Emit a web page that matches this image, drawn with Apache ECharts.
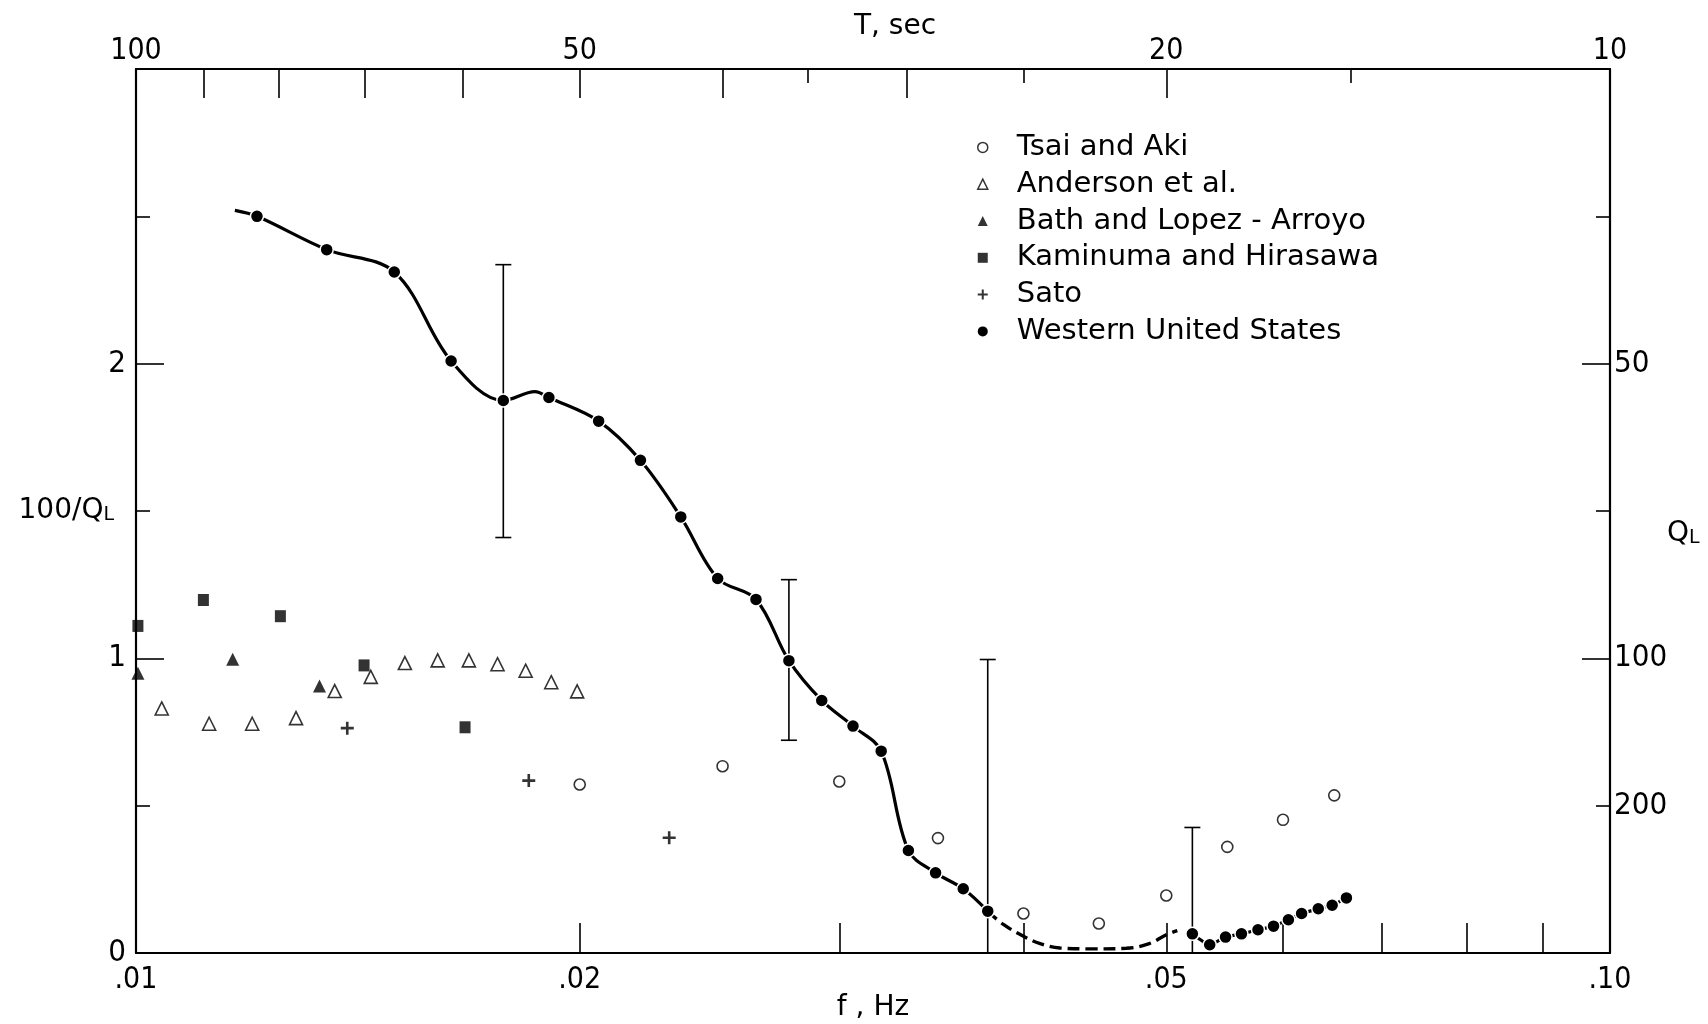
<!DOCTYPE html>
<html><head><meta charset="utf-8">
<script src="https://cdn.jsdelivr.net/npm/echarts@6/dist/echarts.min.js"></script>
<style>html,body{margin:0;padding:0;background:#fff}#c{width:1708px;height:1024px}</style>
</head><body><div id="c"></div>
<script>
// ---------- data (f in Hz, value = 100/Q_L) ----------
const tsaiF = [0.020, 0.025, 0.030, 0.035, 0.040, 0.045, 0.050, 0.055, 0.060, 0.065];
const tsaiQ = [0.572, 0.634, 0.582, 0.390, 0.134, 0.100, 0.195, 0.360, 0.452, 0.535];

const andersonF = [0.01041, 0.01121, 0.01199, 0.01284, 0.01364, 0.01443, 0.01522, 0.01602, 0.01682, 0.01759, 0.01838, 0.01913, 0.01992];
const andersonQ = [0.830, 0.778, 0.778, 0.797, 0.889, 0.937, 0.984, 0.993, 0.993, 0.980, 0.958, 0.919, 0.888];

const bathF = [0.01003, 0.01163, 0.01332];
const bathQ = [0.949, 0.997, 0.906];

const kaminumaF = [0.01003, 0.01111, 0.01253, 0.01428, 0.01672];
const kaminumaQ = [1.110, 1.198, 1.143, 0.976, 0.766];

const satoF = [0.01391, 0.01847, 0.02300];
const satoQ = [0.763, 0.585, 0.391];

// Western United States: measured dots (long-period branch)
const wusF = [0.01208, 0.01347, 0.01497, 0.01636, 0.01775, 0.01906, 0.02060, 0.02199, 0.02342, 0.02481,
              0.02634, 0.02773, 0.02919, 0.03065, 0.03203, 0.03342, 0.03487, 0.03641, 0.03783];
const wusQ = [2.500, 2.387, 2.311, 2.009, 1.875, 1.885, 1.805, 1.672, 1.480, 1.271,
              1.200, 0.992, 0.857, 0.770, 0.685, 0.348, 0.272, 0.218, 0.142];
// points on the drawn curve that carry no dot
const wusCurveStartF = 0.01167, wusCurveStartQ = 2.520;
const wusHumpF = 0.01865, wusHumpQ = 1.905;
// dashed part of the curve (no dots)
const dashF = [0.03783, 0.03879, 0.04000, 0.04106, 0.04235, 0.04461, 0.04696, 0.04869, 0.05000, 0.05087];
const dashQ = [0.142, 0.096, 0.057, 0.032, 0.017, 0.014, 0.016, 0.032, 0.062, 0.076];
// Western United States: short-period branch dots
const wus2F = [0.05208, 0.05351, 0.05485, 0.05623, 0.05770, 0.05912, 0.06051, 0.06177, 0.06340, 0.06479, 0.06625];
const wus2Q = [0.065, 0.028, 0.054, 0.065, 0.079, 0.091, 0.113, 0.134, 0.150, 0.162, 0.187];

// error bars
const errF = [0.01775, 0.02773, 0.03783, 0.05208];
const errLow = [1.410, 0.722, 0.000, 0.000];
const errHigh = [2.336, 1.267, 0.996, 0.426];
const errLowCap = [1, 1, 0, 0];

// axis ticks / labels
const fTicks = [0.02, 0.03, 0.04, 0.05, 0.06, 0.07, 0.08, 0.09];
const fLabels = [0.01, 0.02, 0.05, 0.1];
const tLongTicks = [90, 80, 70, 60, 50, 40, 30, 20];
const tShortTicks = [35, 25, 15];
const tLabels = [100, 50, 20, 10];
const leftLabels = [0, 1, 2];
const qLabels = [200, 100, 50];

// ---------- chart ----------
const FONT = '"DejaVu Sans", "Liberation Sans", sans-serif';
const NUMFONT = '"Liberation Sans Narrow", "DejaVu Sans Condensed", "Liberation Sans", sans-serif';
const BLACK = '#000';
const lg = Math.log10;
const zip = (a, b) => a.map((v, i) => [v, b[i]]);

const plusPath = 'path://M4,0H6V4H10V6H6V10H4V6H0V4H4Z';

const wusSeg1 = [{ value: [wusCurveStartF, wusCurveStartQ], symbol: 'none' }];
wusF.forEach((f, i) => {
  wusSeg1.push([f, wusQ[i]]);
  if (i === 4) wusSeg1.push({ value: [wusHumpF, wusHumpQ], symbol: 'none' });
});

const chart = echarts.init(document.getElementById('c'), null, { renderer: 'canvas' });
const tickStyle = { color: BLACK, width: 1.6 };

chart.setOption({
  backgroundColor: '#fff',
  animation: false,
  grid: { left: 136, right: 98, top: 69, bottom: 71, containLabel: false, outerBoundsMode: 'none' },
  legend: {
    orient: 'vertical', left: 972, top: 124, itemWidth: 10, itemHeight: 10, itemGap: 0,
    selectedMode: false,
    textStyle: { fontFamily: FONT, fontSize: 29, color: BLACK, lineHeight: 36.8, padding: [0, 0, 0, 24] },
    data: [
      { name: 'Tsai and Aki', icon: 'circle', itemStyle: { color: '#fff', borderColor: BLACK, borderWidth: 1.5 } },
      { name: 'Anderson et al.', icon: 'triangle', itemStyle: { color: '#fff', borderColor: BLACK, borderWidth: 1.5 } },
      { name: 'Bath and Lopez - Arroyo', icon: 'triangle', itemStyle: { color: BLACK, borderWidth: 0 } },
      { name: 'Kaminuma and Hirasawa', icon: 'rect', itemStyle: { color: BLACK, borderWidth: 0 } },
      { name: 'Sato', icon: plusPath, itemStyle: { color: BLACK, borderWidth: 0 } },
      { name: 'Western United States', icon: 'circle', itemStyle: { color: BLACK, borderWidth: 0 } }
    ]
  },
  xAxis: [
    { // data axis (log)
      type: 'log', logBase: 10, min: 0.01, max: 0.1, position: 'bottom',
      axisLine: { show: true, onZero: false, lineStyle: { color: BLACK, width: 2.2 } },
      axisTick: { show: false }, axisLabel: { show: false }, splitLine: { show: false }, minorTick: { show: false }
    },
    { // bottom ticks & labels (log10 f)
      type: 'value', min: -2, max: -1, position: 'bottom',
      name: 'f , Hz', nameLocation: 'middle', nameGap: 41, nameMoveOverlap: false,
      nameTextStyle: { fontFamily: FONT, fontSize: 28, color: BLACK },
      axisLine: { show: false, onZero: false },
      axisTick: { show: true, inside: true, length: 30, customValues: fTicks.map(lg), lineStyle: tickStyle },
      axisLabel: {
        show: true, margin: 12, customValues: fLabels.map(lg),
        fontFamily: NUMFONT, fontSize: 30, color: BLACK,
        formatter: v => { const f = fLabels.find(x => Math.abs(lg(x) - v) < 1e-6); return f === undefined ? '' : f.toFixed(2).replace(/^0/, ''); }
      },
      splitLine: { show: false }
    },
    { // top axis: period T, long ticks + labels
      type: 'value', min: -2, max: -1, position: 'top',
      name: 'T, sec', nameLocation: 'middle', nameGap: 28, nameMoveOverlap: false,
      nameTextStyle: { fontFamily: FONT, fontSize: 28, color: BLACK, padding: [0, 0, 0, 44] },
      axisLine: { show: true, onZero: false, lineStyle: { color: BLACK, width: 2.2 } },
      axisTick: { show: true, inside: true, length: 29, customValues: tLongTicks.map(t => lg(1 / t)), lineStyle: tickStyle },
      axisLabel: {
        show: true, margin: 3, customValues: tLabels.map(t => lg(1 / t)),
        fontFamily: NUMFONT, fontSize: 30, color: BLACK,
        formatter: v => String(Math.round(1 / Math.pow(10, v)))
      },
      splitLine: { show: false }
    },
    { // top axis: short ticks
      type: 'value', min: -2, max: -1, position: 'top',
      axisLine: { show: false, onZero: false },
      axisTick: { show: true, inside: true, length: 14, customValues: tShortTicks.map(t => lg(1 / t)), lineStyle: tickStyle },
      axisLabel: { show: false }, splitLine: { show: false }
    }
  ],
  yAxis: [
    {
      type: 'value', min: 0, max: 3, interval: 1, position: 'left',
      name: '100/Q{s|L}', nameLocation: 'middle', nameRotate: 0, nameGap: 22, nameMoveOverlap: false,
      nameTextStyle: { fontFamily: FONT, fontSize: 28, color: BLACK,
        rich: { s: { fontFamily: FONT, fontSize: 19, color: BLACK, verticalAlign: 'bottom' } } },
      axisLine: { show: true, onZero: false, lineStyle: { color: BLACK, width: 2.2 } },
      axisTick: { show: true, inside: true, length: 28, lineStyle: tickStyle },
      minorTick: { show: true, splitNumber: 2, length: 14, lineStyle: tickStyle },
      axisLabel: { show: true, margin: 10, customValues: leftLabels, fontFamily: NUMFONT, fontSize: 31, color: BLACK },
      splitLine: { show: false }
    },
    {
      type: 'value', min: 0, max: 3, interval: 1, position: 'right',
      name: 'Q{s|L}', nameLocation: 'middle', nameRotate: 0, nameGap: 57, nameMoveOverlap: false,
      nameTextStyle: { fontFamily: FONT, fontSize: 28, color: BLACK, padding: [46, 0, 0, 0],
        rich: { s: { fontFamily: FONT, fontSize: 19, color: BLACK, verticalAlign: 'bottom' } } },
      axisLine: { show: true, onZero: false, lineStyle: { color: BLACK, width: 2.2 } },
      axisTick: { show: true, inside: true, length: 28, lineStyle: tickStyle },
      minorTick: { show: true, splitNumber: 2, length: 14, lineStyle: tickStyle },
      axisLabel: { show: true, margin: 4, customValues: qLabels.map(q => 100 / q),
        fontFamily: NUMFONT, fontSize: 31, color: BLACK, formatter: v => String(Math.round(100 / v)) },
      splitLine: { show: false }
    }
  ],
  series: [
    {
      name: 'errors', type: 'custom', xAxisIndex: 0, yAxisIndex: 0, z: 1, silent: true,
      encode: { x: 0, y: [1, 2] },
      data: errF.map((f, i) => [f, errLow[i], errHigh[i], errLowCap[i]]),
      renderItem: (params, api) => {
        const f = api.value(0);
        const pLo = api.coord([f, api.value(1)]);
        const pHi = api.coord([f, api.value(2)]);
        const w = 8;
        const st = { stroke: BLACK, lineWidth: 1.6 };
        const ch = [
          { type: 'line', shape: { x1: pLo[0], y1: pLo[1], x2: pHi[0], y2: pHi[1] }, style: st },
          { type: 'line', shape: { x1: pHi[0] - w, y1: pHi[1], x2: pHi[0] + w, y2: pHi[1] }, style: st }
        ];
        if (api.value(3)) ch.push({ type: 'line', shape: { x1: pLo[0] - w, y1: pLo[1], x2: pLo[0] + w, y2: pLo[1] }, style: st });
        return { type: 'group', children: ch };
      }
    },
    {
      name: 'Western United States', type: 'line', xAxisIndex: 0, yAxisIndex: 0, z: 3,
      smooth: 0.35, data: wusSeg1, symbol: 'circle', symbolSize: 13, showSymbol: true,
      lineStyle: { color: BLACK, width: 3.2 },
      itemStyle: { color: BLACK, borderColor: '#fff', borderWidth: 1.5 }
    },
    {
      name: 'Western United States', type: 'line', xAxisIndex: 0, yAxisIndex: 0, z: 2,
      smooth: 0.4, data: zip(dashF, dashQ), symbol: 'none',
      lineStyle: { color: BLACK, width: 3.4, type: [12, 6] }
    },
    {
      name: 'Western United States', type: 'line', xAxisIndex: 0, yAxisIndex: 0, z: 3,
      smooth: 0.2, data: zip(wus2F, wus2Q), symbol: 'circle', symbolSize: 13,
      lineStyle: { color: BLACK, width: 3.2 },
      itemStyle: { color: BLACK, borderColor: '#fff', borderWidth: 1.5 }
    },
    {
      name: 'Tsai and Aki', type: 'scatter', xAxisIndex: 0, yAxisIndex: 0, z: 4,
      data: zip(tsaiF, tsaiQ), symbol: 'circle', symbolSize: 11,
      itemStyle: { color: '#fff', borderColor: BLACK, borderWidth: 1.6 }
    },
    {
      name: 'Anderson et al.', type: 'scatter', xAxisIndex: 0, yAxisIndex: 0, z: 4,
      data: zip(andersonF, andersonQ), symbol: 'triangle', symbolSize: 13,
      itemStyle: { color: '#fff', borderColor: BLACK, borderWidth: 1.6 }
    },
    {
      name: 'Bath and Lopez - Arroyo', type: 'scatter', xAxisIndex: 0, yAxisIndex: 0, z: 4,
      data: zip(bathF, bathQ), symbol: 'triangle', symbolSize: 13,
      itemStyle: { color: BLACK }
    },
    {
      name: 'Kaminuma and Hirasawa', type: 'scatter', xAxisIndex: 0, yAxisIndex: 0, z: 4,
      data: zip(kaminumaF, kaminumaQ), symbol: 'rect', symbolSize: [11, 12],
      itemStyle: { color: BLACK }
    },
    {
      name: 'Sato', type: 'scatter', xAxisIndex: 0, yAxisIndex: 0, z: 4,
      data: zip(satoF, satoQ), symbol: plusPath, symbolSize: 13,
      itemStyle: { color: BLACK }
    }
  ]
});
</script>
</body></html>
